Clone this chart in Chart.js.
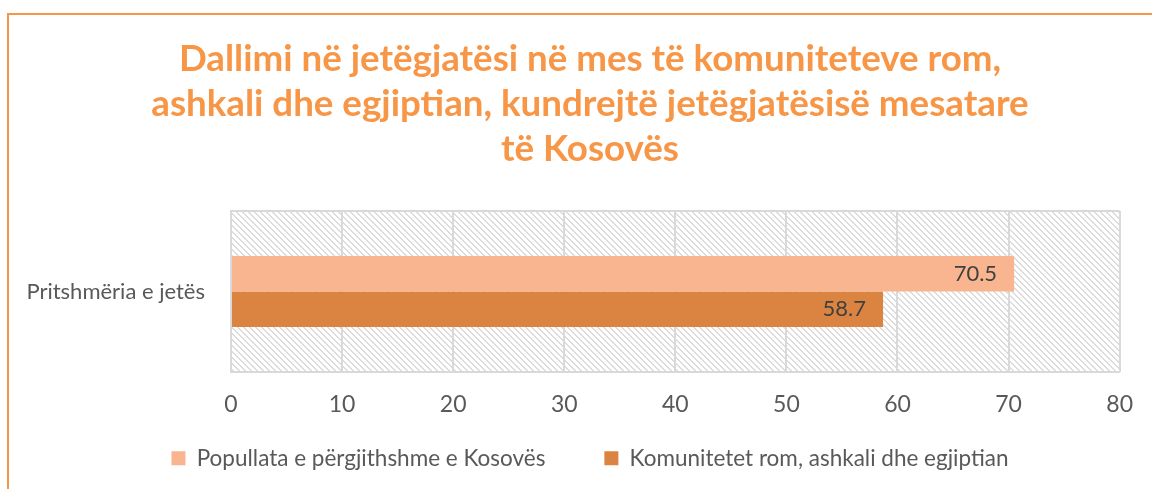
<!DOCTYPE html>
<html>
<head>
<meta charset="utf-8">
<script src="https://cdn.jsdelivr.net/npm/chart.js@4"></script>
<style>
    html, body { margin: 0; padding: 0; background: #fff; overflow: hidden; }
    #wrap { position: relative; width: 1152px; height: 489px; }
    #frame {
        position: absolute; left: 7px; top: 13px; width: 2000px; height: 2000px;
        border-left: 2px solid #f79646; border-top: 2px solid #f79646;
    }
    canvas { position: absolute; left: 0; top: 0; }
</style>
</head>
<body>
<div id="wrap">
    <div id="frame"></div>
    <canvas id="lifeChart" width="1152" height="489"></canvas>
</div>
<script>
const categories = ["Pritshmëria e jetës"];
const seriesNames = ["Popullata e përgjithshme e Kosovës", "Komunitetet rom, ashkali dhe egjiptian"];
const kosovoValues = [70.5];
const communityValues = [58.7];
const xTicks = [0, 10, 20, 30, 40, 50, 60, 70, 80];
const titleLines = [
    "Dallimi në jetëgjatësi në mes të komuniteteve rom,",
    "ashkali dhe egjiptian, kundrejtë jetëgjatësisë mesatare",
    "të Kosovës",
];

const FONT = "Lato, 'Noto Sans', sans-serif";

// hatched background like Excel's light downward diagonal
function makeHatch() {
    const n = 6;
    const c = document.createElement("canvas");
    c.width = n;
    c.height = n;
    const g = c.getContext("2d");
    g.fillStyle = "#fff";
    g.fillRect(0, 0, n, n);
    g.fillStyle = "#dcdcdc";
    for (let i = 0; i < n; i++) {
        g.fillRect(i, i, 1, 1);
        g.fillRect((i + 1) % n, i, 1, 1);
    }
    return c;
}

const hatchBg = {
    id: "hatchBg",
    beforeDraw(chart) {
        const { ctx, chartArea: a } = chart;
        ctx.save();
        ctx.fillStyle = ctx.createPattern(makeHatch(), "repeat");
        ctx.fillRect(a.left, a.top, a.right - a.left, a.bottom - a.top);
        ctx.restore();
    },
};

// centre title + legend over the plot like the Excel original
const shiftBlocks = {
    id: "shiftBlocks",
    afterLayout(chart) {
        const t = chart.titleBlock;
        t.left = 58;
        t.right = 1122;
        t.width = t.right - t.left;
        const lg = chart.legend;
        const h = lg.height;
        lg.left = 58;
        lg.right = 1122;
        lg.width = lg.right - lg.left;
        lg.top = 388;
        lg.bottom = lg.top + h;
    },
};

const valueLabels = {
    id: "valueLabels",
    afterDatasetsDraw(chart) {
        const ctx = chart.ctx;
        ctx.save();
        ctx.font = "22px " + FONT;
        ctx.fillStyle = "#404040";
        ctx.textAlign = "right";
        ctx.textBaseline = "middle";
        chart.data.datasets.forEach((ds, i) => {
            chart.getDatasetMeta(i).data.forEach((bar, j) => {
                ctx.fillText(ds.data[j].toFixed(1), bar.x - 17, bar.y);
            });
        });
        ctx.restore();
    },
};

new Chart(document.getElementById("lifeChart"), {
    type: "bar",
    data: {
        labels: categories,
        datasets: [
            {
                label: seriesNames[0],
                data: kosovoValues,
                backgroundColor: "#f8b590",
            },
            {
                label: seriesNames[1],
                data: communityValues,
                backgroundColor: "#db8340",
            },
        ],
    },
    options: {
        indexAxis: "y",
        responsive: false,
        animation: false,
        layout: { padding: { left: 7, right: 30, top: 0, bottom: -20.5 } },
        categoryPercentage: 0.44,
        barPercentage: 1,
        plugins: {
            title: {
                display: true,
                text: titleLines,
                color: "#f79646",
                font: { family: FONT, size: 36.7, weight: "bold", lineHeight: 45 / 36.7 },
                padding: { top: 37, bottom: 39 },
            },
            legend: {
                position: "bottom",
                labels: {
                    color: "#595959",
                    font: { family: FONT, size: 22.5 },
                    boxWidth: 14,
                    boxHeight: 14,
                    padding: 59,
                },
            },
            tooltip: { enabled: false },
        },
        scales: {
            x: {
                min: 0,
                max: 80,
                afterBuildTicks: (s) => { s.ticks = xTicks.map((v) => ({ value: v })); },
                afterFit: (s) => { s.height = 46; },
                grid: { color: "#d9d9d9", lineWidth: 2, drawTicks: false },
                border: { display: false },
                ticks: { color: "#595959", font: { family: FONT, size: 23 }, padding: 19 },
            },
            y: {
                grid: { color: "#d9d9d9", lineWidth: 2, drawTicks: false },
                border: { color: "#d9d9d9", width: 2 },
                ticks: { color: "#595959", font: { family: FONT, size: 22 }, padding: 26 },
                afterFit: (s) => { s.width = 224; },
            },
        },
    },
    plugins: [hatchBg, shiftBlocks, valueLabels],
});
</script>
</body>
</html>
